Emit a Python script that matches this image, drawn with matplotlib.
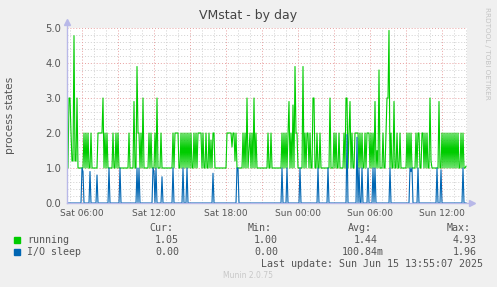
import numpy as np
import matplotlib
matplotlib.use("Agg")
import matplotlib.pyplot as plt

# --- data (5 minute samples, 400 of them) ---------------------------------
n_samples = 400
t_start = 285          # minutes after Sat 00:00 (Sat 04:45)
step = 5

running_base = 1.0
running_idx = [0, 2, 3, 4, 5, 6, 7, 8, 9, 10, 17, 19, 21, 24, 31, 32, 33, 34, 35, 36,
               38, 40, 46, 49, 51, 62, 67, 70, 71, 72, 74, 76, 82, 84, 88, 90, 94,
               106, 108, 109, 110, 111, 114, 116, 118, 120, 122, 124, 127, 129, 131,
               132, 133, 134, 136, 139, 142, 144, 146, 147, 160, 161, 162, 163, 164,
               165, 166, 167, 168, 169, 176, 178, 180, 182, 183, 185, 187, 189, 201,
               204, 215, 217, 219, 221, 222, 224, 226, 228, 229, 230, 236, 238, 240,
               241, 243, 246, 247, 250, 253, 263, 267, 269, 272, 277, 279, 280, 282,
               283, 285, 288, 289, 290, 291, 293, 295, 298, 300, 301, 302, 304, 306,
               308, 310, 312, 316, 319, 320, 321, 322, 324, 327, 330, 333, 340, 342,
               344, 349, 351, 352, 355, 356, 358, 360, 363, 364, 372, 375, 377, 379,
               381, 383, 385, 387, 389, 391, 394, 396, 399]
running_val = [2.0, 3.0, 3.0, 2.0, 1.2, 1.2, 4.78, 1.2, 1.2, 3.0, 2.0, 2.0, 2.0, 2.0,
               2.0, 2.0, 2.0, 2.0, 2.0, 3.0, 2.0, 2.0, 2.0, 2.0, 2.0, 2.0, 2.9, 3.9,
               2.0, 2.0, 2.0, 3.0, 2.0, 2.0, 2.0, 3.0, 2.0,
               2.0, 2.0, 2.0, 2.0, 2.0, 2.0, 2.0, 2.0, 2.0, 2.0, 2.0, 2.0, 2.0, 2.0,
               2.0, 2.0, 2.0, 2.0, 2.0, 2.0, 1.8, 2.0, 2.0, 2.0, 2.0, 2.0, 2.0, 2.0,
               1.6, 2.0, 2.0, 1.2, 2.0, 2.0, 2.0, 3.0, 1.5, 2.0, 2.0, 3.0, 2.0, 2.0,
               2.0, 2.0, 2.0, 2.0, 2.0, 2.9, 2.0, 2.8, 3.9, 2.0, 2.0, 3.9, 2.0, 2.0,
               2.0, 2.0, 3.0, 3.0, 2.0, 2.0, 3.0, 2.0, 2.0, 2.0, 2.0, 3.0, 3.0, 2.0,
               2.9, 2.0, 2.0, 2.0, 2.0, 2.0, 2.0, 2.0, 2.0, 2.0, 2.0, 2.0, 2.0, 2.0,
               2.9, 1.5, 3.8, 2.0, 2.0, 3.0, 3.0, 4.93, 2.0, 2.9, 2.0, 2.0, 2.0, 2.0,
               2.0, 2.0, 2.0, 2.0, 2.0, 2.0, 2.0, 2.0, 3.0, 1.2, 2.9, 2.0, 2.0, 2.0,
               2.0, 2.0, 2.0, 2.0, 2.0, 2.0, 2.0, 2.0, 1.05]

io_base = 0.0
io_idx = [15, 16, 23, 30, 42, 53, 70, 72, 86, 87, 89, 95, 106, 116, 120, 146, 170,
          171, 215, 220, 233, 251, 261, 280, 290, 292, 295, 301, 306, 308, 323, 343,
          344, 345, 351, 370, 374, 396]
io_val = [1.0, 0.9, 0.9, 0.8, 1.0, 1.0, 1.0, 1.0, 1.0, 0.9, 1.0, 0.75, 1.0, 1.0, 1.0,
          0.85, 1.0, 1.0, 1.0, 1.0, 1.0, 1.0, 1.0, 1.96, 1.88, 1.0, 1.0, 1.0, 1.0, 1.0,
          1.0, 1.0, 0.9, 1.0, 1.0, 1.0, 0.95, 1.0]

tick_pos = [360, 720, 1080, 1440, 1800, 2160]
tick_labels = ["Sat 06:00", "Sat 12:00", "Sat 18:00", "Sun 00:00", "Sun 06:00", "Sun 12:00"]

series_names = ["running", "I/O sleep"]
series_colors = ["#00CC00", "#0066B3"]
cur_vals = ["1.05", "0.00"]
min_vals = ["1.00", "0.00"]
avg_vals = ["1.44", "100.84m"]
max_vals = ["4.93", "1.96"]

# --- build series ---------------------------------------------------------
t = t_start + step * np.arange(n_samples)
running = np.full(n_samples, running_base)
running[running_idx] = running_val
io_sleep = np.full(n_samples, io_base)
io_sleep[io_idx] = io_val

W, H = 497, 287
fig = plt.figure(figsize=(W / 100, H / 100), dpi=100, facecolor="#F0F0F0")

def px(x, y):
    return x / W, 1 - y / H

ax = fig.add_axes([67 / W, 1 - 203 / H, 400 / W, 175 / H], facecolor="white")
ax.set_xlim(t_start, t_start + step * n_samples)
ax.set_ylim(0, 5.0)

# grid: minor grey, major red
for v in np.arange(0.2, 5.01, 0.2):
    major = abs(v - round(v)) < 1e-6
    ax.axhline(v, color="#E8A0A0" if major else "#D0D0D0", lw=0.7,
               ls=(0, (1, 2)), zorder=1)
for m in range(300, 2290, 60):
    major = m % 180 == 0
    ax.axvline(m, color="#E8A0A0" if major else "#D0D0D0", lw=0.7,
               ls=(0, (1, 2)), zorder=1)

ax.plot(t, running, color=series_colors[0], lw=0.8, zorder=3)
ax.plot(t, io_sleep, color=series_colors[1], lw=0.8, zorder=4)

for s in ax.spines.values():
    s.set_visible(False)
axis_col = "#B8B8E8"
ax.plot([0, 0], [0, 1.03], color=axis_col, lw=1, transform=ax.transAxes, clip_on=False, zorder=5)
ax.plot([0, 1.01], [0, 0], color=axis_col, lw=1, transform=ax.transAxes, clip_on=False, zorder=5)
ax.plot([0], [1.035], marker="^", ms=4, color=axis_col, transform=ax.transAxes, clip_on=False)
ax.plot([1.013], [0], marker=">", ms=4, color=axis_col, transform=ax.transAxes, clip_on=False)

ax.set_xticks(tick_pos)
ax.set_xticklabels(tick_labels)
ax.set_yticks(np.arange(0, 5.01, 1.0))
ax.set_yticklabels([f"{v:.1f}" for v in np.arange(0, 5.01, 1.0)])
ax.tick_params(length=0, labelsize=6.5, colors="#555555", pad=4)
ax.tick_params(axis="y", labelsize=7.2, pad=4)

fig.text(*px(248, 16), "VMstat - by day", ha="center", va="center", fontsize=9, color="#444444")
fig.text(*px(10, 115), "process states", ha="center", va="center", rotation=90,
         fontsize=7.7, color="#555555")
fig.text(*px(487, 53), "RRDTOOL / TOBI OETIKER", ha="center", va="center", rotation=270,
         fontsize=5.2, color="#C4C4C4")

# legend block
mono = dict(family="DejaVu Sans Mono", fontsize=7.2, color="#555555", va="center")
for label, x in zip(["Cur:", "Min:", "Avg:", "Max:"], [149, 248, 348, 447]):
    fig.text(*px(x, 228), label, **mono)
rows_y = [240, 252]
for i in range(2):
    y = rows_y[i]
    fig.patches.append(plt.Rectangle(px(14, y + 3), 6 / W, 6 / H, color=series_colors[i],
                                     transform=fig.transFigure, figure=fig))
    fig.text(*px(27, y), series_names[i], **mono)
    fig.text(*px(179, y), cur_vals[i], ha="right", **mono)
    fig.text(*px(278, y), min_vals[i], ha="right", **mono)
    fig.text(*px(342 if len(avg_vals[i]) > 4 else 354, y), avg_vals[i], **mono)
    fig.text(*px(477, y), max_vals[i], ha="right", **mono)
fig.text(*px(483, 264), "Last update: Sun Jun 15 13:55:07 2025", ha="right", **mono)
fig.text(*px(248, 276), "Munin 2.0.75", ha="center", va="center", fontsize=5.5, color="#C8C8C8")

fig.savefig("out.png", dpi=100, facecolor=fig.get_facecolor())
